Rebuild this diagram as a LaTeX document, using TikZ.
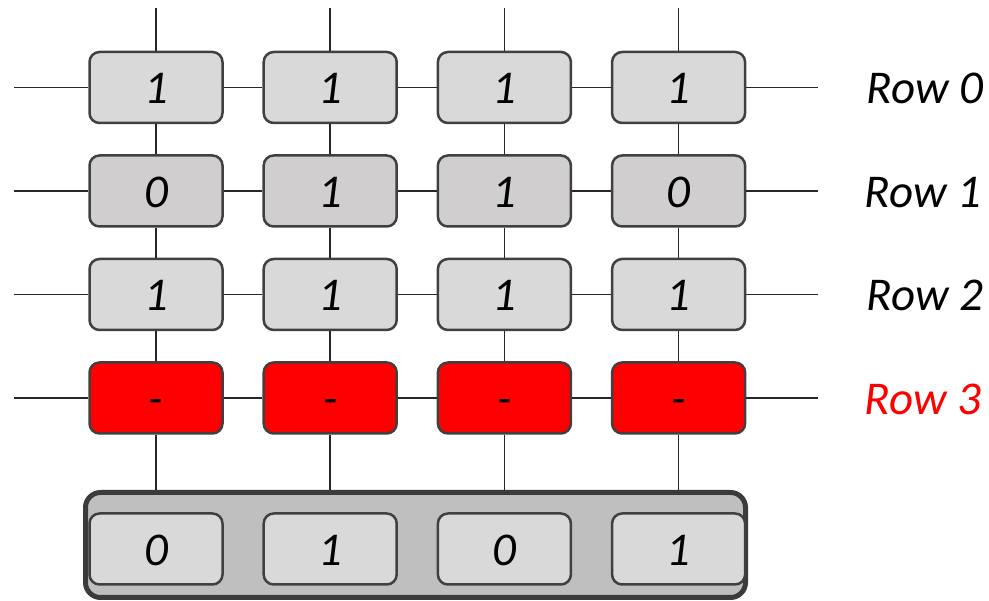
\documentclass[tikz,border=0pt]{standalone}
\usepackage{fontspec}
\setmainfont{Carlito}
\usetikzlibrary{positioning}

\definecolor{cellgray}{HTML}{D9D9D9}
\definecolor{cellgraydark}{HTML}{D0CECE}
\definecolor{edgegray}{HTML}{404040}
\definecolor{busgray}{HTML}{BFBFBF}
\definecolor{busedge}{HTML}{3B3B3B}

\begin{document}
\begin{tikzpicture}[x=1pt, y=-1pt]

\tikzstyle{cell} = [draw=edgegray, fill=cellgray, shape=rectangle, rounded corners=10pt, minimum width=133pt, minimum height=71pt, line width=2.5pt, inner sep=0pt, text height=33pt, text depth=0pt, font=\fontsize{47}{50}\selectfont\itshape]
\tikzstyle{bus} = [draw=busedge, fill=busgray, shape=rectangle, rounded corners=15pt, minimum width=660pt, minimum height=105pt, line width=5pt]
\tikzstyle{rowlabel} = [inner sep=0pt, text height=33pt, text depth=0pt, font=\fontsize{47}{50}\selectfont\itshape]
\tikzstyle{wire} = [line width=1.5pt, black!85]

\useasboundingbox (0,0) rectangle (989,601);

%Creating Blocks
\node[cell] at (156,87.5) (c00) {1};
\node[cell, right=38.7pt of c00] (c01) {1};
\node[cell, right=38.7pt of c01] (c02) {1};
\node[cell, right=38.7pt of c02] (c03) {1};

\node[cell, fill=cellgraydark, below=30pt of c00] (c10) {0};
\node[cell, fill=cellgraydark, right=38.7pt of c10] (c11) {1};
\node[cell, fill=cellgraydark, right=38.7pt of c11] (c12) {1};
\node[cell, fill=cellgraydark, right=38.7pt of c12] (c13) {0};

\node[cell, below=30pt of c10] (c20) {1};
\node[cell, right=38.7pt of c20] (c21) {1};
\node[cell, right=38.7pt of c21] (c22) {1};
\node[cell, right=38.7pt of c22] (c23) {1};

\node[cell, fill=red, below=30pt of c20] (c30) {-};
\node[cell, fill=red, right=38.7pt of c30] (c31) {-};
\node[cell, fill=red, right=38.7pt of c31] (c32) {-};
\node[cell, fill=red, right=38.7pt of c32] (c33) {-};

%Output register
\node[bus] at (415.5,545) (bus) {};
\node[cell] at (156,549) (b0) {0};
\node[cell, right=38.7pt of b0] (b1) {1};
\node[cell, right=38.7pt of b1] (b2) {0};
\node[cell, right=38.7pt of b2] (b3) {1};

%Row labels
\node[rowlabel, right=120pt of c03] (l0) {Row 0};
\node[rowlabel, right=118pt of c13] (l1) {Row 1};
\node[rowlabel, right=120pt of c23] (l2) {Row 2};
\node[rowlabel, red, right=118pt of c33] (l3) {Row 3};

%Wire ends
\coordinate[above=43pt of c00] (t0);
\coordinate[above=43pt of c01] (t1);
\coordinate[above=43pt of c02] (t2);
\coordinate[above=43pt of c03] (t3);
\coordinate[left=74pt of c00] (w0);
\coordinate[left=74pt of c10] (w1);
\coordinate[left=74pt of c20] (w2);
\coordinate[left=74pt of c30] (w3);
\coordinate[right=72pt of c03] (e0);
\coordinate[right=72pt of c13] (e1);
\coordinate[right=72pt of c23] (e2);
\coordinate[right=72pt of c33] (e3);

%Connecting Blocks
\draw[wire] (w0) -- (c00) -- (c01) -- (c02) -- (c03) -- (e0);
\draw[wire] (w1) -- (c10) -- (c11) -- (c12) -- (c13) -- (e1);
\draw[wire] (w2) -- (c20) -- (c21) -- (c22) -- (c23) -- (e2);
\draw[wire] (w3) -- (c30) -- (c31) -- (c32) -- (c33) -- (e3);

\draw[wire] (t0) -- (c00) -- (c10) -- (c20) -- (c30) -- (c30 |- bus.north);
\draw[wire] (t1) -- (c01) -- (c11) -- (c21) -- (c31) -- (c31 |- bus.north);
\draw[wire] (t2) -- (c02) -- (c12) -- (c22) -- (c32) -- (c32 |- bus.north);
\draw[wire] (t3) -- (c03) -- (c13) -- (c23) -- (c33) -- (c33 |- bus.north);

\end{tikzpicture}
\end{document}
